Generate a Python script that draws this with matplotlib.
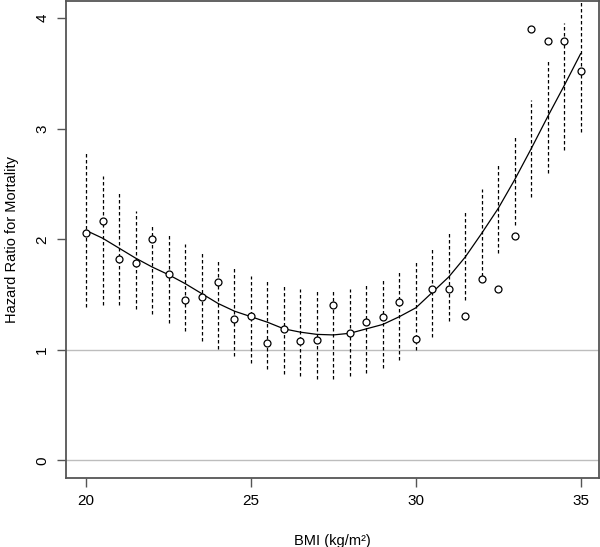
import matplotlib
matplotlib.use('Agg')
import matplotlib.pyplot as plt

plt.rcParams['font.family'] = ['Liberation Sans', 'DejaVu Sans']

# BMI grid
bmi = [20, 20.5, 21, 21.5, 22, 22.5, 23, 23.5, 24, 24.5, 25, 25.5, 26, 26.5, 27,
       27.5, 28, 28.5, 29, 29.5, 30, 30.5, 31, 31.5, 32, 32.5, 33, 33.5, 34, 34.5, 35]

# observed hazard ratios (circles)
hr = [2.06, 2.17, 1.82, 1.79, 2.00, 1.69, 1.45, 1.48, 1.61, 1.28, 1.31, 1.06, 1.19, 1.08, 1.085,
      1.41, 1.15, 1.25, 1.30, 1.435, 1.10, 1.555, 1.555, 1.31, 1.64, 1.555, 2.03, 3.905, 3.79, 3.79, 3.52]

# confidence band (dashed vertical lines)
ci_low = [1.39, 1.41, 1.41, 1.37, 1.32, 1.24, 1.17, 1.08, 1.01, 0.94, 0.88, 0.83, 0.78, 0.76, 0.74,
          0.74, 0.76, 0.79, 0.84, 0.91, 1.00, 1.12, 1.26, 1.45, 1.67, 1.88, 2.13, 2.385, 2.60, 2.81, 2.97]
ci_high = [2.80, 2.57, 2.42, 2.26, 2.12, 2.05, 1.96, 1.88, 1.81, 1.745, 1.67, 1.62, 1.58, 1.55, 1.53,
           1.53, 1.55, 1.59, 1.64, 1.70, 1.80, 1.92, 2.06, 2.25, 2.455, 2.69, 2.94, 3.26, 3.62, 3.96, 4.30]

# fitted curve
fit = [2.08, 2.01, 1.92, 1.83, 1.75, 1.68, 1.60, 1.51, 1.42, 1.35, 1.30, 1.25, 1.19, 1.16, 1.14,
       1.135, 1.15, 1.19, 1.23, 1.30, 1.38, 1.52, 1.66, 1.84, 2.055, 2.28, 2.54, 2.82, 3.11, 3.39, 3.68]

fig = plt.figure(figsize=(6, 5.47), dpi=100)
ax = fig.add_axes([0.11, 0.127, 0.888, 0.871])

ax.axhline(0, color='#bdbdbd', lw=1)
ax.axhline(1, color='#bdbdbd', lw=1)

ax.vlines(bmi, ci_low, ci_high, colors='black', linestyles=(0, (2.8, 2.0)), lw=0.9)
ax.plot(bmi, fit, color='black', lw=0.9)
ax.plot(bmi, hr, 'o', mfc='white', mec='black', ms=5, mew=0.9, linestyle='none')

ax.set_xlim(19.39, 35.55)
ax.set_ylim(-0.155, 4.155)
ax.set_xticks([20, 25, 30, 35])
ax.set_yticks([0, 1, 2, 3, 4])
ax.set_yticklabels(['0', '1', '2', '3', '4'], rotation=90, va='center')
ax.tick_params(length=6.5, width=1, color='#555555', labelsize=11, pad=5.5)

for s in ax.spines.values():
    s.set_color('#555555')
    s.set_linewidth(1.3)

ax.set_xlabel('BMI (kg/m²)', fontsize=10.5)
ax.set_ylabel('Hazard Ratio for Mortality', fontsize=10.5)
ax.xaxis.set_label_coords(0.5, -0.118)
ax.yaxis.set_label_coords(-0.088, 0.5)

fig.savefig('out.png', dpi=100)
